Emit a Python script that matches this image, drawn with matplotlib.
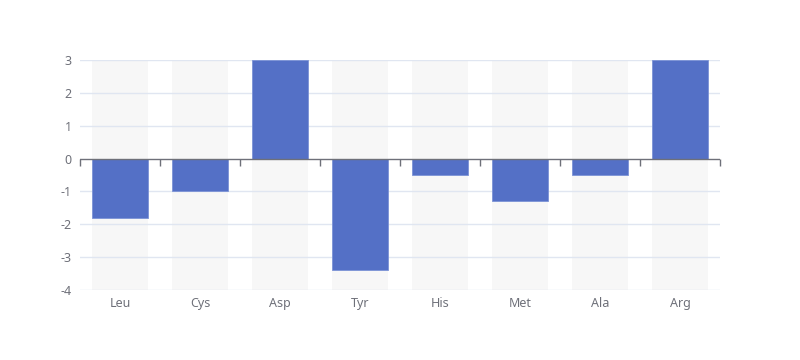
import numpy as np
import matplotlib
matplotlib.use('Agg')
import matplotlib.pyplot as plt

plt.rcParams['font.family'] = ['Noto Sans', 'DejaVu Sans']
plt.rcParams['axes.unicode_minus'] = False

# data
categories = ['Leu', 'Cys', 'Asp', 'Tyr', 'His', 'Met', 'Ala', 'Arg']
values = [-1.8, -1.0, 3.0, -3.4, -0.5, -1.3, -0.5, 3.0]
y_ticks = [-4, -3, -2, -1, 0, 1, 2, 3]

ymin, ymax = -4, 3
x = np.arange(len(categories))

fig = plt.figure(figsize=(8, 3.6), dpi=100)
ax = fig.add_axes([0.1, 1 - 290 / 360, 0.8, 230 / 360])

# background bars
ax.bar(x, ymax - ymin, bottom=ymin, width=0.7, color='#f7f7f7', zorder=1)
# gridlines
for t in y_ticks:
    if t != 0:
        ax.axhline(t, color='#E0E6F1', lw=1, zorder=1.5)
# value bars
ax.bar(x, values, width=0.7, color='#5470c6', edgecolor='#7c93d6', lw=0.6, zorder=2)

# zero axis line with ticks between categories
ax.axhline(0, color='#6E7079', lw=1, zorder=3)
bounds = np.arange(len(categories) + 1) - 0.5
ax.plot(bounds, np.zeros_like(bounds), ls='none', marker=3, markersize=5,
        markeredgewidth=1, color='#6E7079', zorder=3, clip_on=False)

ax.set_xlim(-0.5, len(categories) - 0.5)
ax.set_ylim(ymin, ymax)
ax.set_xticks(x)
ax.set_xticklabels(categories)
ax.set_yticks(y_ticks)
ax.tick_params(axis='both', length=0, labelsize=9, labelcolor='#6E7079')
ax.tick_params(axis='x', pad=5)
ax.tick_params(axis='y', pad=6)
for s in ax.spines.values():
    s.set_visible(False)

fig.savefig('out.png', dpi=100)
